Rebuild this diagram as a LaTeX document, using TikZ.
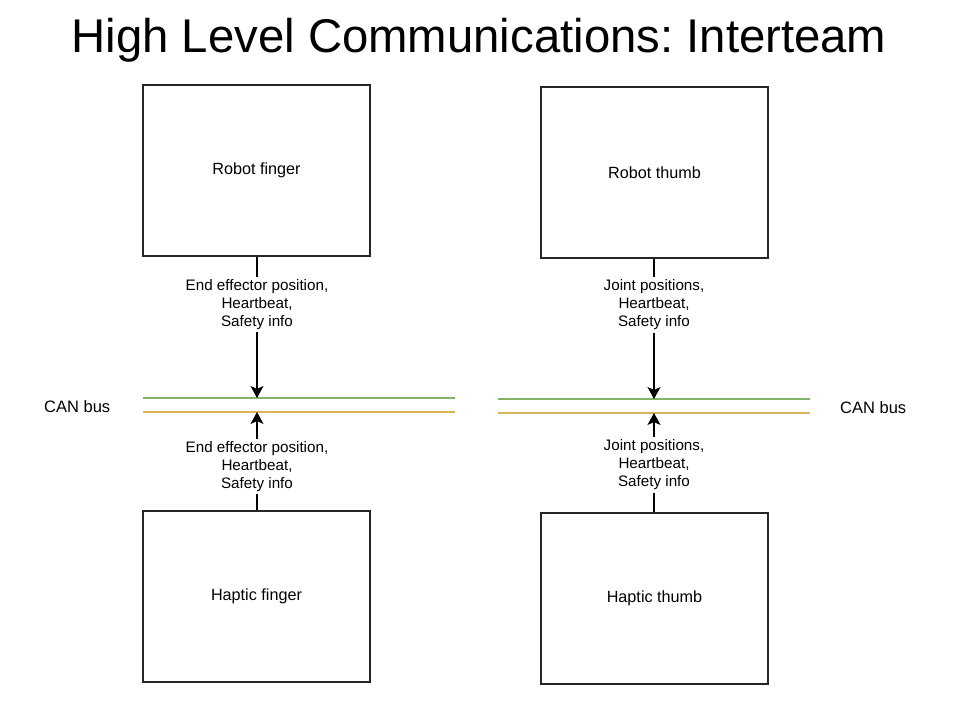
\documentclass[tikz,border=0pt]{standalone}
\usepackage{fontspec}
\setmainfont{Liberation Sans}
\usetikzlibrary{arrows.meta}
\definecolor{busgreen}{HTML}{82B366}
\definecolor{busorange}{HTML}{D6B656}
\frenchspacing
\tikzset{
  blockbox/.style={draw=black!85, line width=1.3pt, minimum width=227pt, minimum height=171pt, inner sep=0pt, font=\fontsize{16.2}{19}\selectfont},
  msglabel/.style={align=center, inner sep=2.5pt, font=\fontsize{15.2}{18}\selectfont},
  link/.style={draw=black, line width=1.1pt},
  arrowlink/.style={link, -{Stealth[length=12pt,width=13pt,inset=3pt]}},
  greenbus/.style={draw=busgreen, line width=1.3pt},
  orangebus/.style={draw=busorange, line width=1.3pt},
  buslabel/.style={inner sep=0pt, font=\fontsize{16.5}{19}\selectfont},
}
\begin{document}
\begin{tikzpicture}[x=1pt,y=-1pt]
\useasboundingbox (0,0) rectangle (953,709);
\node[inner sep=0pt, anchor=base, font=\fontsize{47.3}{52}\selectfont] (title) at (479,53) {High Level Communications: Interteam};

% boxes
\node[blockbox] (rf) at (256.5,170.5) {Robot finger};
\node[blockbox] (rt) at (654.5,172.5) {Robot thumb};
\node[blockbox] (hf) at (256.5,596.5) {Haptic finger};
\node[blockbox] (ht) at (654.5,598.5) {Haptic thumb};

% CAN buses
\coordinate (lgA) at (143,398); \coordinate (lgB) at (455,398);
\coordinate (loA) at (143,412); \coordinate (loB) at (455,412);
\coordinate (rgA) at (498,399); \coordinate (rgB) at (810,399);
\coordinate (roA) at (498,413); \coordinate (roB) at (810,413);
\draw[greenbus] (lgA) -- (lgB);
\draw[orangebus] (loA) -- (loB);
\draw[greenbus] (rgA) -- (rgB);
\draw[orangebus] (roA) -- (roB);
\node[buslabel, anchor=base west] (canl) at (44,412) {CAN bus};
\node[buslabel, anchor=base west] (canr) at (840,413) {CAN bus};

\coordinate (lg) at (257,398);
\coordinate (lo) at (257,412);
\coordinate (rg) at (654,399);
\coordinate (ro) at (654,413);

% labels
\node[msglabel] (l1) at (257,304.5) {End effector position,\\Heartbeat,\\Safety info};
\node[msglabel] (l2) at (257,466.5) {End effector position,\\Heartbeat,\\Safety info};
\node[msglabel] (l3) at (654,305) {Joint positions,\\Heartbeat,\\Safety info};
\node[msglabel] (l4) at (654,465) {Joint positions,\\Heartbeat,\\Safety info};

% connectors
\draw[link] (rf.south -| l1.north) -- (l1.north);
\draw[arrowlink] (l1.south) -- (lg);
\draw[link] (hf.north -| l2.south) -- (l2.south);
\draw[arrowlink] (l2.north) -- (lo);
\draw[link] (rt.south -| l3.north) -- (l3.north);
\draw[arrowlink] (l3.south) -- (rg);
\draw[link] (ht.north -| l4.south) -- (l4.south);
\draw[arrowlink] (l4.north) -- (ro);
\end{tikzpicture}
\end{document}
